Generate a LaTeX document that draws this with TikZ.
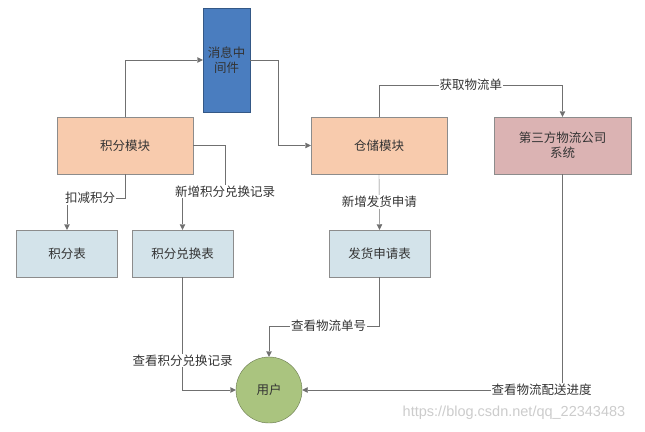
\documentclass[tikz,border=0pt]{standalone}
\usepackage{fontspec}
\newfontfamily\cjk{Noto Sans CJK SC}
\usetikzlibrary{positioning,arrows.meta,calc}
\definecolor{linegray}{HTML}{707070}
\definecolor{mqblue}{HTML}{4A7DBF}
\definecolor{modpeach}{HTML}{F8CBAD}
\definecolor{extrose}{HTML}{DBB3B3}
\definecolor{tblblue}{HTML}{D3E3EA}
\definecolor{usergreen}{HTML}{AAC47F}
\tikzset{
  flowarrow/.style={-{Triangle[length=5.5pt, width=5.5pt]}, thin, draw=linegray},
  modnode/.style={draw=gray!90, fill=modpeach, minimum width=136pt, minimum height=57pt, align=center, inner sep=0pt},
  extnode/.style={draw=gray!90, fill=extrose, minimum width=137pt, minimum height=57pt, align=center, inner sep=0pt},
  tblnode/.style={draw=gray!90, fill=tblblue, minimum width=101pt, minimum height=47pt, align=center, inner sep=0pt},
  mqnode/.style={draw=mqblue!70!black, fill=mqblue, minimum width=47pt, minimum height=104pt, align=center, inner sep=0pt},
  usernode/.style={draw=usergreen!60!black, fill=usergreen, circle, minimum size=66pt, inner sep=0pt},
  relabel/.style={fill=white, inner sep=1pt, text=black!80}
}

\begin{document}
\begin{tikzpicture}[x=1pt, y=-1pt, every node/.style={font=\cjk\fontsize{12.5}{15}\selectfont, text=black!80}]
      \useasboundingbox[fill=white] (0,0) rectangle (645,431);
      % boxes
      \node[mqnode] (mq) at (226.5,60) {消息中\\间件};
      \node[modnode] (jfmod) at (125,145.5) {积分模块};
      \node[modnode] (ccmod) at (379,145.5) {仓储模块};
      \node[extnode] (wl) at (562.5,145.5) {第三方物流公司\\系统};
      \node[tblnode] (jftbl) at (67,253.5) {积分表};
      \node[tblnode] (dhtbl) at (182.5,253.5) {积分兑换表};
      \node[tblnode] (fhtbl) at (379.5,253.5) {发货申请表};
      \node[usernode] (user) at (269,390) {用户};
      % connectors
      \draw[flowarrow] (jfmod.north) |- (mq.west);
      \draw[flowarrow] (mq.east) -- ++(28,0) |- (ccmod.west);
      \draw[flowarrow] (jfmod.south) -- ++(0,24) -| node[relabel, pos=0.3] {扣减积分} (jftbl.north);
      \draw[flowarrow] (jfmod.east) -| ++(32,46) node[relabel] {新增积分兑换记录} -| (dhtbl.north);
      \draw[flowarrow] (ccmod.north) -- ++(0,-32) -| node[relabel, pos=0.25] {获取物流单} (wl.north);
      \draw[flowarrow] (ccmod.south) -- node[relabel] {新增发货申请} (fhtbl.north);
      \draw[flowarrow] (fhtbl.south) -- ++(0,49) -| node[relabel, pos=0.23] {查看物流单号} (user.north);
      \draw[flowarrow] (dhtbl.south) |- node[relabel, pos=0.37] {查看积分兑换记录} (user.west);
      \draw[flowarrow] (wl.south) |- node[relabel, pos=0.54] {查看物流配送进度} (user.east);
      % watermark
      \node[font=\fontspec{Liberation Sans}\fontsize{14.5}{16}\selectfont, text=black!20] (wm) at (514,413) {https://blog.csdn.net/qq\_22343483};
    \end{tikzpicture}
\end{document}
